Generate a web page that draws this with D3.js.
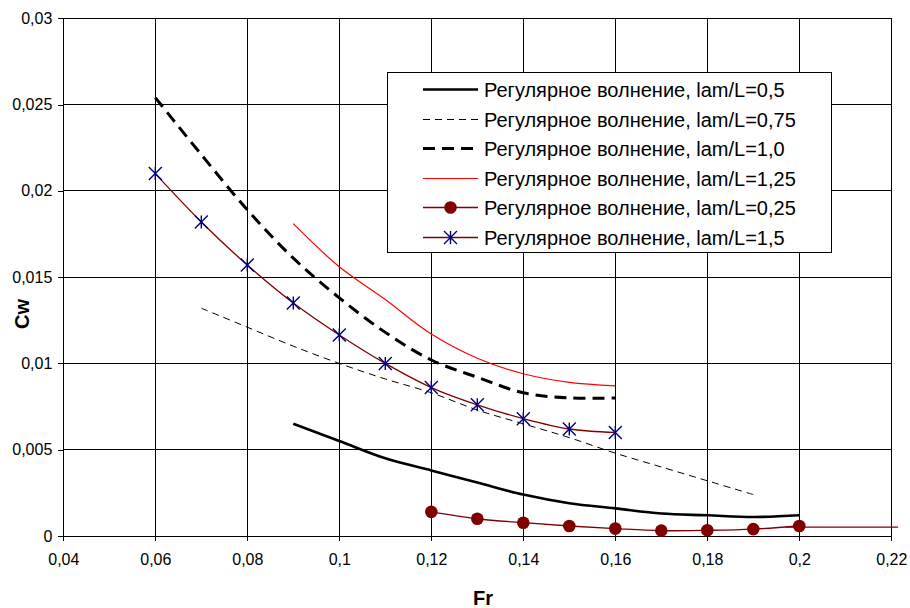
<!DOCTYPE html>
<html>
<head>
<meta charset="utf-8">
<script src="https://cdn.jsdelivr.net/npm/d3@7"></script>
<style>
  body { margin: 0; background: #fff; }
  svg text { font-family: "Liberation Sans", Arial, sans-serif; fill: #000; }
</style>
</head>
<body>
<svg id="chart" width="910" height="608"></svg>
<script>
// data
var xTicks = [0.04, 0.06, 0.08, 0.1, 0.12, 0.14, 0.16, 0.18, 0.2, 0.22];
var yTicks = [0, 0.005, 0.01, 0.015, 0.02, 0.025, 0.03];

var lam05 = [[0.09, 0.0065], [0.10, 0.0055], [0.11, 0.0045], [0.12, 0.0038], [0.13, 0.0031],
  [0.14, 0.0024], [0.15, 0.0019], [0.16, 0.0016], [0.17, 0.0013], [0.18, 0.0012],
  [0.19, 0.0011], [0.20, 0.0012]];
var lam075 = [[0.07, 0.0132], [0.08, 0.0121], [0.09, 0.0110], [0.10, 0.0100], [0.11, 0.0091],
  [0.12, 0.0083], [0.13, 0.0073], [0.14, 0.0065], [0.15, 0.0057], [0.16, 0.0048],
  [0.17, 0.0040], [0.18, 0.0032], [0.19, 0.0024]];
var lam10 = [[0.06, 0.0254], [0.07, 0.0221], [0.08, 0.0189], [0.09, 0.0161], [0.10, 0.0138],
  [0.11, 0.0118], [0.12, 0.0102], [0.13, 0.0092], [0.14, 0.0083], [0.15, 0.0080], [0.16, 0.0080]];
var lam125 = [[0.09, 0.0181], [0.10, 0.0156], [0.11, 0.0137], [0.12, 0.0117], [0.13, 0.0103],
  [0.14, 0.0094], [0.15, 0.0089], [0.16, 0.0087]];
var lam025 = [[0.12, 0.0014], [0.13, 0.0010], [0.14, 0.00077], [0.15, 0.00058], [0.16, 0.00043],
  [0.17, 0.00031], [0.18, 0.00033], [0.19, 0.00040], [0.20, 0.00058]];
var lam025Tail = [[0.20, 0.00058], [0.197, 0.00052], [0.2215, 0.00052]];
var lam15 = [[0.06, 0.0210], [0.07, 0.0182], [0.08, 0.0157], [0.09, 0.0135], [0.10, 0.01165],
  [0.11, 0.0100], [0.12, 0.0086], [0.13, 0.0076], [0.14, 0.0068], [0.15, 0.0062], [0.16, 0.0060]];

var legendLabels = ["Регулярное волнение, lam/L=0,5", "Регулярное волнение, lam/L=0,75",
  "Регулярное волнение, lam/L=1,0", "Регулярное волнение, lam/L=1,25",
  "Регулярное волнение, lam/L=0,25", "Регулярное волнение, lam/L=1,5"];

var series = [
  {data: lam05, color: "#000", width: 2.6, dash: null, marker: null},
  {data: lam075, color: "#000", width: 1, dash: "7,5", marker: null},
  {data: lam10, color: "#000", width: 3, dash: "12,7", marker: null},
  {data: lam125, color: "#ff0000", width: 1.2, dash: null, marker: null},
  {data: lam025, color: "#800000", width: 1.3, dash: null, marker: "circle"},
  {data: lam15, color: "#800000", width: 1.3, dash: null, marker: "star"}
];

var svg = d3.select("#chart");
var x = d3.scaleLinear().domain([0.04, 0.22]).range([63.3, 891.3]);
var y = d3.scaleLinear().domain([0, 0.03]).range([536, 18.3]);

var loc = d3.formatLocale({decimal: ",", thousands: " ", grouping: [3], currency: ["", ""]});
var fmt = loc.format("~g");

// grid
svg.append("g").selectAll("line").data(yTicks).enter().append("line")
    .attr("x1", x(0.04)).attr("x2", x(0.22))
    .attr("y1", function(d){return y(d);}).attr("y2", function(d){return y(d);})
    .attr("stroke", "#000").attr("stroke-width", 1).attr("shape-rendering", "crispEdges");
svg.append("g").selectAll("line").data(xTicks).enter().append("line")
    .attr("x1", function(d){return x(d);}).attr("x2", function(d){return x(d);})
    .attr("y1", y(0)).attr("y2", y(0.03))
    .attr("stroke", "#000").attr("stroke-width", 1).attr("shape-rendering", "crispEdges");

// axes
var xAxis = svg.append("g").attr("transform", "translate(0," + y(0) + ")")
    .call(d3.axisBottom(x).tickValues(xTicks).tickFormat(fmt).tickSize(5).tickPadding(13));
var yAxis = svg.append("g").attr("transform", "translate(" + x(0.04) + ",0)")
    .call(d3.axisLeft(y).tickValues(yTicks).tickFormat(fmt).tickSize(5).tickPadding(6));
[xAxis, yAxis].forEach(function(a) {
  a.selectAll("text").style("font-size", "16px").style("font-family", '"Liberation Sans", Arial, sans-serif');
  a.selectAll("line").attr("stroke", "#000").attr("shape-rendering", "crispEdges");
  a.select(".domain").attr("stroke", "#000").attr("shape-rendering", "crispEdges");
});

// lines
var line = d3.line()
    .x(function(d){return x(d[0]);})
    .y(function(d){return y(d[1]);})
    .curve(d3.curveCatmullRom.alpha(0.5));

svg.append("path").datum(lam025Tail)
    .attr("d", d3.line().x(function(d){return x(d[0]);}).y(function(d){return y(d[1]);}))
    .attr("fill", "none").attr("stroke", "#800000").attr("stroke-width", 1.3);

series.forEach(function(s) {
  svg.append("path").datum(s.data)
      .attr("d", line)
      .attr("fill", "none")
      .attr("stroke", s.color)
      .attr("stroke-width", s.width)
      .attr("stroke-dasharray", s.dash);
});

function drawMarker(g, type, cx, cy) {
  if (type === "circle") {
    g.append("circle").attr("cx", cx).attr("cy", cy).attr("r", 6.3).attr("fill", "#800000");
  } else if (type === "star") {
    var r = 6.5;
    var p = "M" + (cx - r) + "," + (cy - r) + "L" + (cx + r) + "," + (cy + r)
      + "M" + (cx - r) + "," + (cy + r) + "L" + (cx + r) + "," + (cy - r)
      + "M" + cx + "," + (cy - r) + "L" + cx + "," + (cy + r);
    g.append("path").attr("d", p).attr("stroke", "#000080").attr("stroke-width", 1.4).attr("fill", "none");
  }
}

series.forEach(function(s) {
  if (!s.marker) return;
  var g = svg.append("g");
  s.data.forEach(function(d) { drawMarker(g, s.marker, x(d[0]), y(d[1])); });
});

// axis titles
svg.append("text").attr("x", 483).attr("y", 605).attr("text-anchor", "middle")
    .style("font-size", "20px").style("font-weight", "bold").text("Fr");
svg.append("text").attr("transform", "translate(29,314) rotate(-90)").attr("text-anchor", "middle")
    .style("font-size", "20px").style("font-weight", "bold").text("Cw");

// legend
var leg = svg.append("g");
leg.append("rect").attr("x", 387.5).attr("y", 72.5).attr("width", 444).attr("height", 180)
    .attr("fill", "#fff").attr("stroke", "#000").attr("stroke-width", 1);
series.forEach(function(s, i) {
  var cy = Math.round(89 + i * 29.6) + 0.5;
  leg.append("line").attr("x1", 423).attr("x2", 478).attr("y1", cy).attr("y2", cy)
      .attr("stroke", s.color).attr("stroke-width", s.width).attr("stroke-dasharray", s.dash);
  if (s.marker) drawMarker(leg, s.marker, 450.5, cy);
  leg.append("text").attr("x", 484).attr("y", cy + 7)
      .style("font-size", "20px").text(legendLabels[i]);
});
</script>
</body>
</html>
